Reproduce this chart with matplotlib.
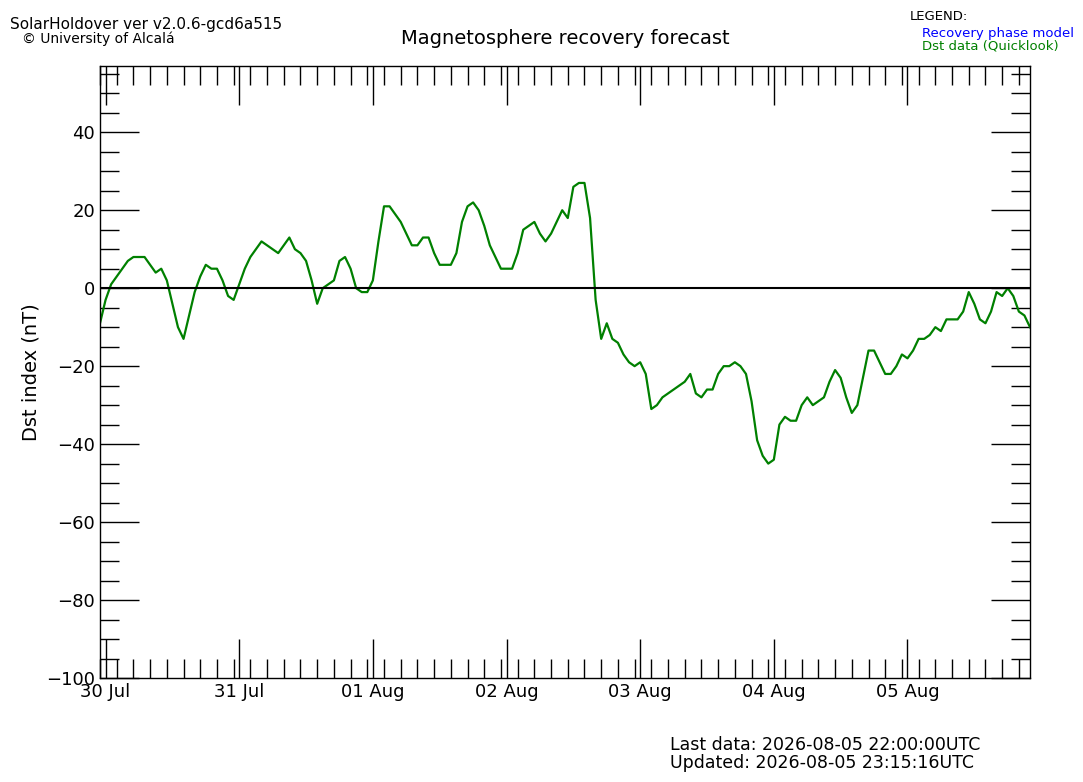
import matplotlib
matplotlib.use("Agg")
import matplotlib.pyplot as plt
import numpy as np

# hourly Dst values starting 29 Jul 23:00 UTC
dst = [-9, -3, 1, 3, 5, 7, 8, 8, 8, 6, 4, 5, 2, -4, -10, -13, -7, -1, 3, 6, 5, 5, 2, -2, -3,
       1, 5, 8, 10, 12, 11, 10, 9, 11, 13, 10, 9, 7, 2, -4, 0, 1, 2, 7, 8, 5, 0, -1, -1,
       2, 12, 21, 21, 19, 17, 14, 11, 11, 13, 13, 9, 6, 6, 6, 9, 17, 21, 22, 20, 16, 11, 8, 5,
       5, 5, 9, 15, 16, 17, 14, 12, 14, 17, 20, 18, 26, 27, 27, 18, -3, -13, -9, -13, -14, -17, -19, -20,
       -19, -22, -31, -30, -28, -27, -26, -25, -24, -22, -27, -28, -26, -26, -22, -20, -20, -19, -20, -22, -29, -39, -43, -45,
       -44, -35, -33, -34, -34, -30, -28, -30, -29, -28, -24, -21, -23, -28, -32, -30, -23, -16, -16, -19, -22, -22, -20, -17,
       -18, -16, -13, -13, -12, -10, -11, -8, -8, -8, -6, -1, -4, -8, -9, -6, -1, -2, 0, -2, -6, -7, -10]
start_hour = -1
day_labels = ["30 Jul", "31 Jul", "01 Aug", "02 Aug", "03 Aug", "04 Aug", "05 Aug"]

hours = np.arange(len(dst)) + start_hour

fig = plt.figure(figsize=(10.83, 7.82), dpi=100)
ax = fig.add_axes([100/1083, 1-678/782, 930/1083, 612/782])
ax.plot(hours, dst, color="green", lw=1.6)
ax.axhline(0, color="black", lw=1.5)
ax.set_xlim(hours[0], hours[-1])
ax.set_ylim(-100, 57)
ax.set_xticks(np.arange(len(day_labels)) * 24)
ax.set_xticklabels(day_labels)
ax.set_xticks(np.arange(-1, hours[-1] + 1, 3), minor=True)
ax.set_yticks(np.arange(-100, 41, 20))
ax.set_yticks(np.arange(-100, 56, 5), minor=True)
ax.tick_params(which="major", direction="in", length=28, width=1, top=True, right=True, labelsize=13)
ax.tick_params(which="minor", direction="in", length=14, width=1, top=True, right=True)
ax.set_ylabel("Dst index (nT)", fontsize=14)
for s in ax.spines.values():
    s.set_linewidth(1)

fig.text(10/1083, 1-25/782, "SolarHoldover ver v2.0.6-gcd6a515", fontsize=11, va="center")
fig.text(22/1083, 1-39/782, "© University of Alcalá", fontsize=10, va="center")
fig.text(565/1083, 1-39/782, "Magnetosphere recovery forecast", fontsize=14, ha="center", va="center")
fig.text(910/1083, 1-17/782, "LEGEND:", fontsize=9.5, va="center")
fig.text(922/1083, 1-33/782, "Recovery phase model", fontsize=9.5, color="blue", va="center")
fig.text(922/1083, 1-46/782, "Dst data (Quicklook)", fontsize=9.5, color="green", va="center")
fig.text(670/1083, 1-745/782, "Last data: 2026-08-05 22:00:00UTC", fontsize=12.5, va="center")
fig.text(670/1083, 1-763/782, "Updated: 2026-08-05 23:15:16UTC", fontsize=12.5, va="center")
fig.savefig("out.png", dpi=100)
